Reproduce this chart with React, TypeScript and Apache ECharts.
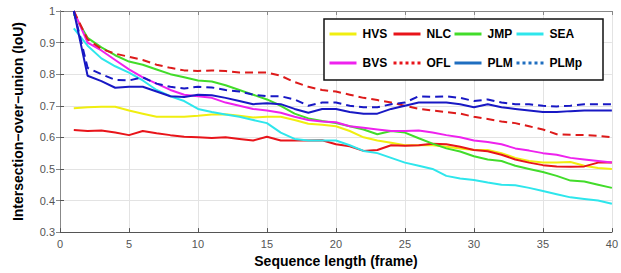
import React, { useEffect, useRef } from "react";
import * as echarts from "echarts";

const frames = Array.from({ length: 40 }, (_, i) => i + 1);

const HVS = [0.692, 0.695, 0.697, 0.697, 0.685, 0.675, 0.665, 0.665, 0.665, 0.668, 0.672, 0.673, 0.668, 0.663, 0.665, 0.665, 0.655, 0.643, 0.64, 0.635, 0.62, 0.6, 0.59, 0.583, 0.575, 0.575, 0.575, 0.57, 0.565, 0.56, 0.56, 0.55, 0.535, 0.525, 0.52, 0.52, 0.522, 0.51, 0.503, 0.5];
const NLC = [0.623, 0.62, 0.622, 0.615, 0.607, 0.62, 0.613, 0.607, 0.602, 0.6, 0.598, 0.6, 0.595, 0.59, 0.602, 0.59, 0.59, 0.59, 0.591, 0.578, 0.572, 0.557, 0.56, 0.575, 0.573, 0.575, 0.58, 0.578, 0.57, 0.56, 0.556, 0.545, 0.53, 0.52, 0.512, 0.508, 0.507, 0.508, 0.52, 0.52];
const JMP = [0.99, 0.915, 0.885, 0.86, 0.84, 0.83, 0.815, 0.8, 0.79, 0.78, 0.777, 0.765, 0.75, 0.735, 0.72, 0.7, 0.675, 0.66, 0.652, 0.645, 0.635, 0.625, 0.61, 0.62, 0.615, 0.597, 0.58, 0.565, 0.555, 0.54, 0.53, 0.525, 0.51, 0.5, 0.49, 0.478, 0.463, 0.46, 0.45, 0.44];
const SEA = [0.945, 0.89, 0.85, 0.825, 0.805, 0.78, 0.75, 0.73, 0.715, 0.69, 0.68, 0.672, 0.665, 0.655, 0.645, 0.615, 0.595, 0.59, 0.59, 0.59, 0.575, 0.557, 0.55, 0.535, 0.52, 0.51, 0.5, 0.478, 0.47, 0.465, 0.457, 0.45, 0.448, 0.44, 0.43, 0.42, 0.41, 0.405, 0.4, 0.39];
const BVS = [1.0, 0.9, 0.875, 0.845, 0.815, 0.79, 0.77, 0.75, 0.735, 0.73, 0.725, 0.71, 0.7, 0.69, 0.685, 0.678, 0.665, 0.655, 0.65, 0.648, 0.635, 0.63, 0.625, 0.62, 0.62, 0.622, 0.615, 0.607, 0.6, 0.59, 0.585, 0.578, 0.565, 0.558, 0.55, 0.545, 0.535, 0.53, 0.525, 0.52];
const OFL = [1.0, 0.91, 0.88, 0.865, 0.855, 0.845, 0.83, 0.82, 0.812, 0.81, 0.812, 0.81, 0.805, 0.805, 0.805, 0.795, 0.775, 0.76, 0.75, 0.745, 0.735, 0.725, 0.718, 0.71, 0.7, 0.69, 0.685, 0.68, 0.675, 0.665, 0.658, 0.65, 0.645, 0.635, 0.625, 0.61, 0.608, 0.607, 0.605, 0.6];
const PLM = [1.0, 0.795, 0.778, 0.757, 0.76, 0.76, 0.745, 0.73, 0.728, 0.735, 0.733, 0.725, 0.715, 0.705, 0.708, 0.705, 0.69, 0.678, 0.69, 0.69, 0.68, 0.675, 0.675, 0.69, 0.7, 0.71, 0.71, 0.71, 0.705, 0.695, 0.705, 0.695, 0.69, 0.685, 0.68, 0.68, 0.683, 0.685, 0.685, 0.685];
const PLMp = [1.0, 0.82, 0.8, 0.782, 0.78, 0.79, 0.77, 0.76, 0.755, 0.76, 0.758, 0.75, 0.745, 0.735, 0.73, 0.73, 0.72, 0.7, 0.71, 0.71, 0.7, 0.695, 0.695, 0.705, 0.71, 0.73, 0.728, 0.73, 0.725, 0.715, 0.72, 0.71, 0.705, 0.705, 0.7, 0.698, 0.7, 0.705, 0.705, 0.705];

const seriesNames = ["HVS", "NLC", "JMP", "SEA", "BVS", "OFL", "PLM", "PLMp"];
const seriesData = [HVS, NLC, JMP, SEA, BVS, OFL, PLM, PLMp];
const seriesColors = ["#f0ee10", "#e8141a", "#42dc2a", "#2ee6ec", "#ee22ee", "#dd1a1a", "#1818c4", "#1818c4"];
const legendColors = ["#f0ee10", "#e8141a", "#42dc2a", "#2ee6ec", "#ee22ee", "#e8141a", "#1f6ec0", "#1f6ec0"];
const dashed = [false, false, false, false, false, true, false, true];

const yTicks = { min: 0.3, max: 1, interval: 0.1 };
const xTicks = { min: 0, max: 40, interval: 5 };

export default function App() {
  const ref = useRef<HTMLDivElement>(null);
  useEffect(() => {
    if (!ref.current) return;
    const chart = echarts.init(ref.current, null, { renderer: "svg" });
    const gridLeft = 60, gridTop = 11, gridRight = 5, gridBottom = 36;
    const axisColor = "#555555";
    const legendCols = [328, 392, 453, 515];
    const legendRows = [35, 64];
    const legends = seriesNames.map((n, i) => ({
      data: [
        {
          name: n,
          itemStyle: { opacity: 0, color: "transparent", borderWidth: 0 },
          lineStyle: {
            color: legendColors[i],
            width: 3,
            opacity: 1,
            type: dashed[i] ? [3, 3] : "solid",
          },
        },
      ],
      left: legendCols[i % 4],
      top: legendRows[Math.floor(i / 4)] - 7,
      padding: 0,
      itemWidth: 27,
      itemHeight: 14,
      z: 10,
      textStyle: {
        fontFamily: "Liberation Sans",
        fontWeight: "bold",
        fontSize: 12,
        color: "#000",
        padding: [0, 0, 0, 1],
      },
    }));
    chart.setOption({
      animation: false,
      backgroundColor: "#fff",
      grid: { left: gridLeft, top: gridTop, right: gridRight, bottom: gridBottom },
      graphic: [
        {
          type: "rect",
          shape: { x: 324, y: 19, width: 279, height: 61 },
          style: { fill: "#fff", stroke: "#111", lineWidth: 1.5 },
          z: 5,
        },
      ],
      legend: legends,
      xAxis: [
        {
          type: "value",
          ...xTicks,
          name: "Sequence length (frame)",
          nameLocation: "middle",
          nameGap: 19,
          nameTextStyle: { fontFamily: "Liberation Sans", fontWeight: "bold", fontSize: 14, color: "#000" },
          axisLine: { show: true, lineStyle: { color: axisColor, width: 1 } },
          axisTick: { show: true, inside: true, length: 4, lineStyle: { color: axisColor } },
          axisLabel: { fontFamily: "Liberation Sans", fontSize: 11, color: "#555", margin: 6 },
          splitLine: { show: true, lineStyle: { color: "#e3e3e3", width: 1 } },
        },
        {
          type: "value",
          ...xTicks,
          position: "top",
          axisLine: { show: true, lineStyle: { color: "#888", width: 1 } },
          axisTick: { show: true, inside: true, length: 4, lineStyle: { color: "#888" } },
          axisLabel: { show: false },
          splitLine: { show: false },
        },
      ],
      yAxis: [
        {
          type: "value",
          ...yTicks,
          name: "Intersection\u2212over\u2212union (IoU)",
          nameLocation: "middle",
          nameGap: 35,
          nameTextStyle: { fontFamily: "Liberation Sans", fontWeight: "bold", fontSize: 14, color: "#000" },
          axisLine: { show: true, lineStyle: { color: axisColor, width: 1 } },
          axisTick: { show: true, inside: true, length: 4, lineStyle: { color: axisColor } },
          axisLabel: { fontFamily: "Liberation Sans", fontSize: 11, color: "#555", margin: 5 },
          splitLine: { show: true, lineStyle: { color: "#e3e3e3", width: 1 } },
        },
        {
          type: "value",
          ...yTicks,
          position: "right",
          axisLine: { show: true, lineStyle: { color: "#888", width: 1 } },
          axisTick: { show: true, inside: true, length: 4, lineStyle: { color: "#888" } },
          axisLabel: { show: false },
          splitLine: { show: false },
        },
      ],
      series: seriesNames.map((n, i) => ({
        name: n,
        type: "line",
        data: frames.map((f, j) => [f, seriesData[i][j]]),
        symbol: "none",
        color: seriesColors[i],
        lineStyle: {
          color: seriesColors[i],
          width: 2,
          type: dashed[i] ? [8, 5] : "solid",
        },
        z: 2,
      })),
    });
    return () => chart.dispose();
  }, []);
  return (
    <div
      ref={ref}
      style={{ position: "fixed", left: 0, top: 0, width: 621, height: 273, background: "#fff" }}
    />
  );
}
